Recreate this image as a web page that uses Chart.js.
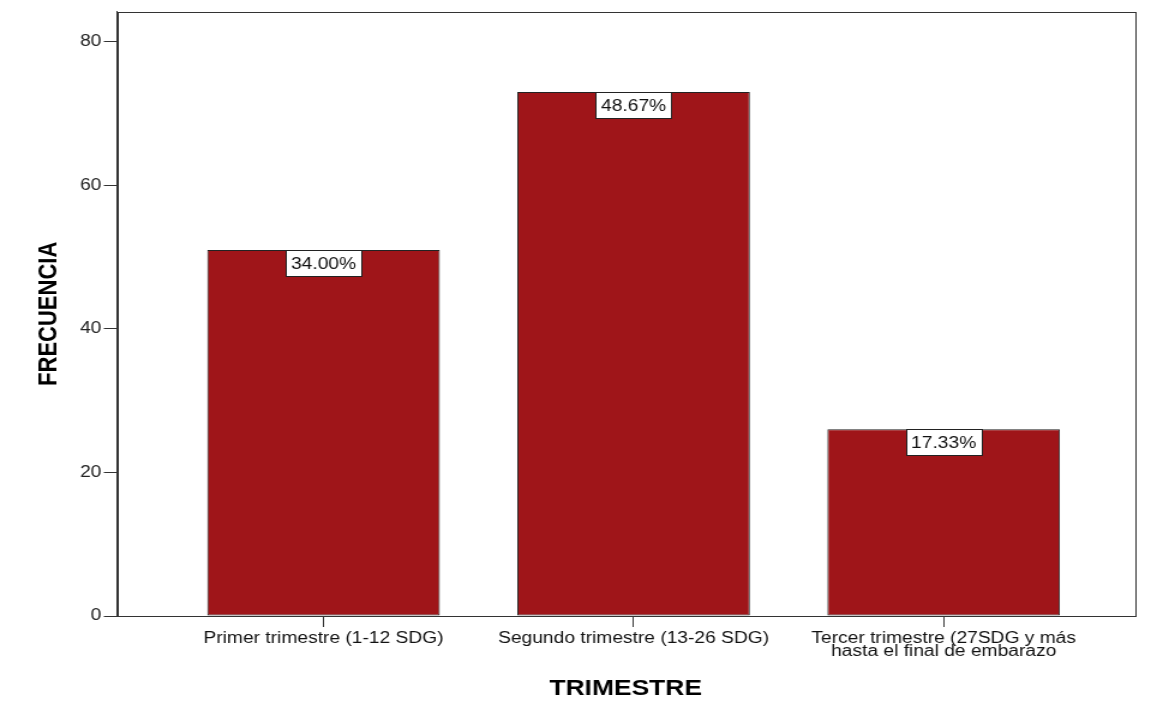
<!DOCTYPE html>
<html>
<head>
<meta charset="utf-8">
<script src="https://cdn.jsdelivr.net/npm/chart.js@4.4.1/dist/chart.umd.min.js"></script>
<style>
  html, body { margin: 0; padding: 0; background: #fff; overflow: hidden; }
</style>
</head>
<body>
<!-- the reference is horizontally stretched, so the canvas is drawn 959 wide and shown 1151 wide -->
<canvas id="chart" width="959" height="717" style="display:block;width:1151px;height:717px"></canvas>
<script>
// data
const categories = [
  'Primer trimestre (1-12 SDG)',
  'Segundo trimestre (13-26 SDG)',
  ['Tercer trimestre (27SDG y más', 'hasta el final de embarazo']
];
const frequencies = [51, 73, 26];
const percentLabels = ['34.00%', '48.67%', '17.33%'];
const yTicks = [0, 20, 40, 60, 80];

const FONT = "'Liberation Sans', Arial, sans-serif";
const LINE = '#333';

// white boxes with the percentage at the top of each bar
const pctBoxes = {
  id: 'pctBoxes',
  afterDatasetsDraw(chart) {
    const ctx = chart.ctx;
    const meta = chart.getDatasetMeta(0);
    ctx.save();
    ctx.font = '16px ' + FONT;
    ctx.textAlign = 'center';
    ctx.textBaseline = 'middle';
    meta.data.forEach((bar, i) => {
      const txt = percentLabels[i];
      const w = Math.round(ctx.measureText(txt).width + 9);
      const h = 26;
      const x = Math.round(bar.x - w / 2) + 0.5;
      const y = Math.round(bar.y) + 0.5;
      ctx.fillStyle = '#fff';
      ctx.fillRect(x, y, w, h);
      ctx.strokeStyle = '#222';
      ctx.lineWidth = 1;
      ctx.strokeRect(x, y, w, h);
      ctx.fillStyle = '#111';
      ctx.fillText(txt, bar.x, y + h / 2 + 1);
    });
    ctx.restore();
  }
};

// box round the plot area
const frame = {
  id: 'frame',
  afterDraw(chart) {
    const {ctx, chartArea: a} = chart;
    ctx.save();
    ctx.strokeStyle = LINE;
    ctx.lineWidth = 1;
    ctx.strokeRect(Math.round(a.left) + 0.5, Math.round(a.top) + 0.5,
      Math.round(a.right - a.left), Math.round(a.bottom - a.top));
    ctx.restore();
  }
};

const data = {
  datasets: [{
    data: frequencies.map((v, i) => ({x: i, y: v})),
    backgroundColor: '#9f1519',
    borderColor: '#222',
    borderWidth: 1,
    borderSkipped: false,
    categoryPercentage: 1,
    barPercentage: 0.75
  }]
};

const config = {
  type: 'bar',
  data,
  options: {
    responsive: false,
    devicePixelRatio: 1,
    animation: false,
    layout: { padding: { top: 10, right: 14, left: 0, bottom: 0 } },
    plugins: {
      legend: { display: false },
      tooltip: { enabled: false }
    },
    scales: {
      x: {
        type: 'linear',
        offset: false,
        min: -0.666,
        max: 2.6145,
        afterBuildTicks: s => { s.ticks = categories.map((c, i) => ({value: i})); },
        afterFit: s => { s.height = 101; },
        grid: { offset: false, drawOnChartArea: false, drawTicks: true, tickLength: 11, color: LINE },
        border: { display: true, color: LINE },
        ticks: {
          callback: v => categories[v],
          font: { family: FONT, size: 16, lineHeight: 0.8 },
          color: '#111',
          padding: 5,
          maxRotation: 0,
          autoSkip: false
        },
        title: {
          display: true,
          text: 'TRIMESTRE',
          font: { family: FONT, size: 22, weight: 'bold' },
          color: '#000',
          padding: { top: 0, bottom: 15 }
        }
      },
      y: {
        min: 0,
        max: 84.2,
        afterBuildTicks: s => { s.ticks = yTicks.map(v => ({value: v})); },
        afterFit: s => { s.width = 97.5; },
        grid: { drawOnChartArea: false, drawTicks: true, tickLength: 11, color: LINE },
        border: { display: true, color: LINE },
        ticks: {
          font: { family: FONT, size: 16 },
          color: '#222',
          padding: 2
        },
        title: {
          display: true,
          text: 'FRECUENCIA',
          font: { family: FONT, size: 22, weight: 'bold' },
          color: '#000',
          padding: { top: 28, bottom: 0 }
        }
      }
    }
  },
  plugins: [pctBoxes, frame]
};

const myChart = new Chart(document.getElementById('chart'), config);
</script>
</body>
</html>
